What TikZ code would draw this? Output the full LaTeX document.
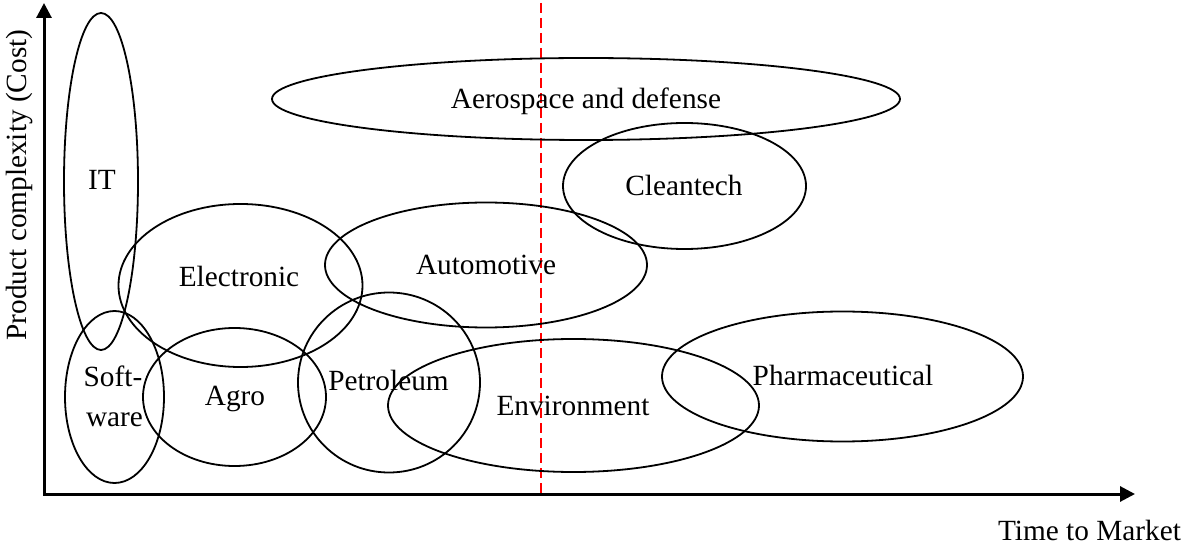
\documentclass[tikz,border=0pt]{standalone}
\usepackage{fontspec}
\setmainfont{Liberation Serif}
\usetikzlibrary{arrows.meta,shapes.geometric}
\tikzset{
  region/.style={ellipse, draw=black, line width=1.8pt, inner sep=0pt, outer sep=0pt},
  lbl/.style={anchor=base, inner sep=0pt, font=\fontsize{29.3}{35}\selectfont},
  axis/.style={draw=black, line width=3pt, {Triangle[length=15pt,width=15pt]}-{Triangle[length=15pt,width=15pt]}},
  divider/.style={draw=red, line width=1.7pt, dash pattern=on 10pt off 5pt}
}
\begin{document}
\begin{tikzpicture}[x=1pt,y=-1pt]
\useasboundingbox (0,0) rectangle (1184,545);
% axes
\coordinate (ytip) at (44,3);
\coordinate (orig) at (44,494);
\coordinate (xtip) at (1135,494);
\draw[axis] (ytip) -- (orig) -- (xtip);
% red dashed divider
\coordinate (dtop) at (541,3);
\coordinate (dbot) at (541,497);
\draw[divider] (dtop) -- (dbot);
% regions
\node[region, minimum width=74pt, minimum height=337pt] (it) at (101,181.5) {};
\node[region, minimum width=628pt, minimum height=82pt] (aero) at (586,99) {};
\node[region, minimum width=243pt, minimum height=126pt] (clean) at (684.5,186) {};
\node[region, minimum width=244pt, minimum height=163pt] (elec) at (240.5,285.5) {};
\node[region, minimum width=322pt, minimum height=125pt] (auto) at (486,265) {};
\node[region, minimum width=99pt, minimum height=172pt] (soft) at (114.5,397) {};
\node[region, minimum width=183pt, minimum height=138pt] (agro) at (234.5,397) {};
\node[region, minimum width=182pt, minimum height=180pt] (petro) at (389,382.5) {};
\node[region, minimum width=371pt, minimum height=133pt] (env) at (573.5,405.5) {};
\node[region, minimum width=361pt, minimum height=130pt] (pharma) at (842.5,376.5) {};
% labels
\node[lbl] (itl) at (102,190) {IT};
\node[lbl] (aerol) at (586,109) {Aerospace and defense};
\node[lbl] (cleanl) at (684,196) {Cleantech};
\node[lbl] (elecl) at (239,287) {Electronic};
\node[lbl] (autol) at (486,275) {Automotive};
\node[lbl] (softl1) at (113,387) {Soft-};
\node[lbl] (softl2) at (114.5,426) {ware};
\node[lbl] (agrol) at (235,406) {Agro};
\node[lbl] (petrol) at (388.5,391) {Petroleum};
\node[lbl] (envl) at (573,415) {Environment};
\node[lbl] (pharmal) at (843,386) {Pharmaceutical};
\node[lbl, rotate=90] (ylab) at (26,185) {Product complexity (Cost)};
\node[lbl] (xlab) at (1089.5,540) {Time to Market};
\end{tikzpicture}
\end{document}
